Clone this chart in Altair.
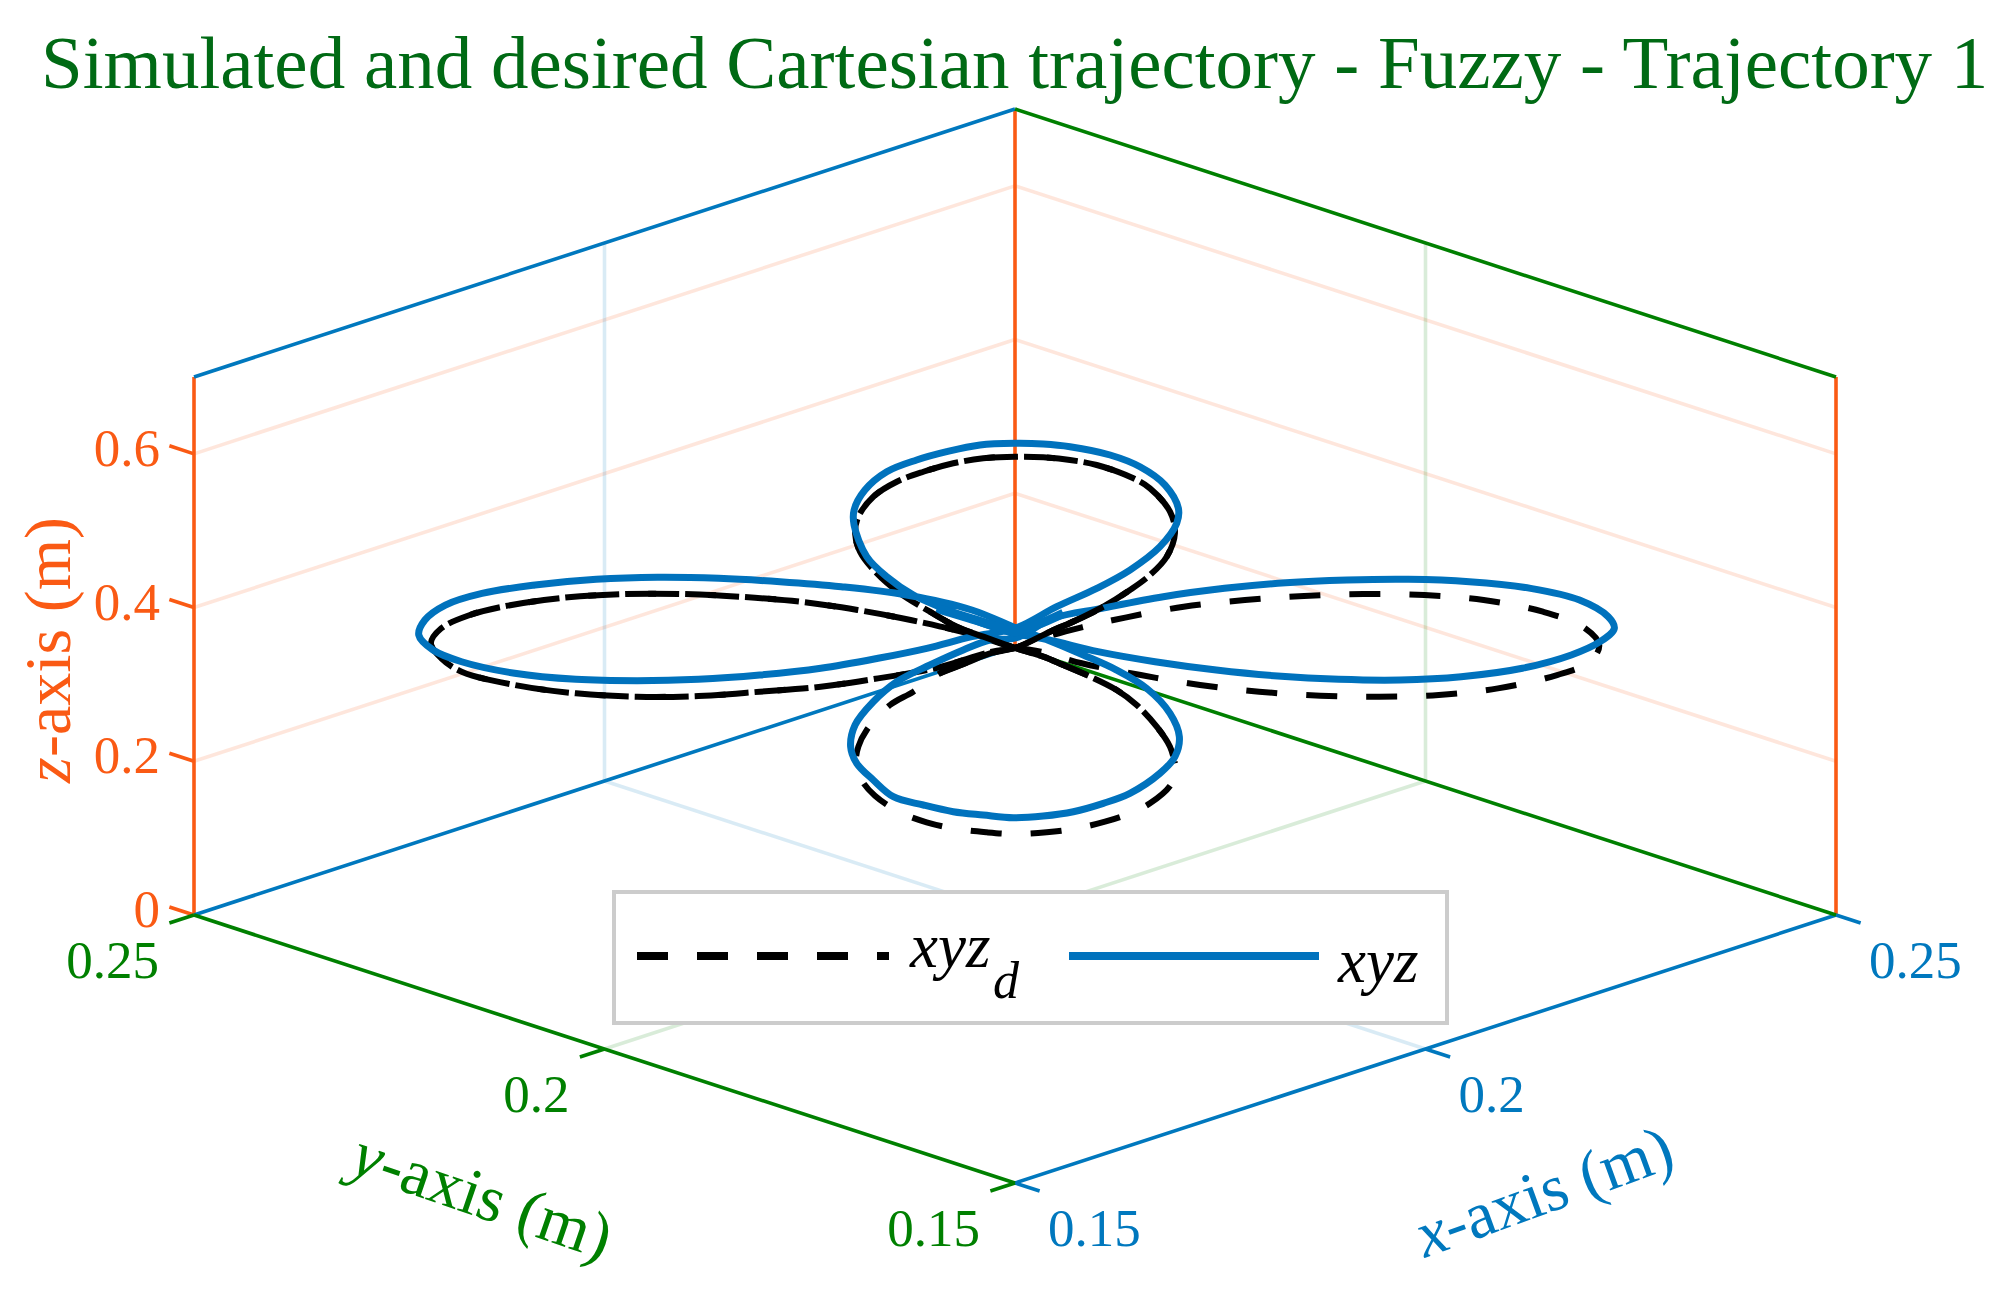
import altair as alt
import pandas as pd
import math

# Desired trajectory (m)
x_d = [.20000,.20157,.20406,.20766,.21127,.21487,.21860,.22220,.22581,.22941,.23301,.23501,.23558,.23463,.23215,.22854,.22494,.22121,.21760,.21400,.21027,.20679,.20406,.20231,
       .20000,.19848,.19706,.19543,.19381,.19239,.19097,.19046,.19032,.19066,.19147,.19300,.19462,.19645,.19828,.20010,.20193,.20376,.20548,.20700,.20822,.20954,.20974,.20944,.20863,.20741,.20619,.20437,.20294,.20172,
       .20000,.19713,.19364,.19041,.18693,.18320,.17972,.17624,.17252,.16878,.16680,.16506,.16443,.16506,.16630,.16953,.17326,.17699,.18072,.18445,.18817,.19166,.19513,.19861,
       .20000,.20213,.20376,.20538,.20700,.20822,.20924,.20974,.20944,.20822,.20700,.20498,.20335,.20172,.20000,.19807,.19624,.19442,.19280,.19137,.19046,.19026,.19056,.19158,.19300,.19482,.19645,.19807,
       .20000]
y_d = [.20000,.19843,.19594,.19234,.18873,.18513,.18140,.17780,.17419,.17059,.16699,.16499,.16442,.16537,.16785,.17146,.17506,.17879,.18240,.18600,.18973,.19321,.19594,.19769,
       .20000,.20152,.20294,.20457,.20619,.20761,.20903,.20954,.20968,.20934,.20853,.20700,.20538,.20355,.20172,.19990,.19807,.19624,.19452,.19300,.19178,.19046,.19026,.19056,.19137,.19259,.19381,.19563,.19706,.19828,
       .20000,.20287,.20636,.20959,.21307,.21680,.22028,.22376,.22748,.23122,.23320,.23494,.23557,.23494,.23370,.23047,.22674,.22301,.21928,.21555,.21183,.20834,.20487,.20139,
       .20000,.19787,.19624,.19462,.19300,.19178,.19076,.19026,.19056,.19178,.19300,.19502,.19665,.19828,.20000,.20193,.20376,.20558,.20720,.20863,.20954,.20974,.20944,.20842,.20700,.20518,.20355,.20193,
       .20000]
z_d = [.3474,.3426,.3275,.3122,.2992,.2905,.2853,.2840,.2862,.2949,.3122,.3295,.3513,.3743,.3946,.4098,.4163,.4176,.4150,.4098,.4011,.3873,.3743,.3643,
       .3474,.3405,.3282,.3145,.2905,.2732,.2407,.2190,.1994,.1756,.1552,.1336,.1206,.1119,.1076,.1054,.1076,.1128,.1214,.1323,.1453,.1713,.1974,.2190,.2450,.2732,.2927,.3122,.3253,.3361,
       .3474,.3665,.3838,.3968,.4076,.4141,.4176,.4176,.4128,.4011,.3903,.3730,.3535,.3340,.3165,.2992,.2884,.2840,.2849,.2905,.2970,.3079,.3210,.3426,
       .3474,.3686,.3838,.4011,.4228,.4423,.4662,.4966,.5247,.5551,.5702,.5855,.5920,.5955,.5963,.5942,.5877,.5767,.5637,.5442,.5182,.4966,.4727,.4446,.4185,.3946,.3751,.3621,
       .3474]

# Simulated trajectory (m)
x_s = [.20006,.20207,.20505,.20853,.21226,.21599,.21972,.22345,.22717,.23090,.23388,.23563,.23650,.23613,.23438,.23140,.22767,.22395,.22021,.21649,.21276,.20903,.20530,.20231,
       .20006,.19848,.19685,.19482,.19280,.19137,.19026,.18999,.19036,.19137,.19259,.19442,.19624,.19807,.19990,.20172,.20355,.20538,.20700,.20883,.20974,.21001,.20944,.20802,.20619,.20416,.20172,
       .20006,.19737,.19339,.18942,.18569,.18196,.17823,.17450,.17077,.16754,.16531,.16406,.16369,.16456,.16630,.16953,.17326,.17699,.18072,.18445,.18817,.19166,.19463,.19737,
       .20006,.20254,.20498,.20700,.20883,.20985,.20995,.20914,.20761,.20579,.20335,.20172,.20000,.19787,.19584,.19401,.19219,.19086,.19020,.19020,.19097,.19219,.19381,.19563,.19746,.19889,
       .20006]
y_s = [.19994,.19793,.19495,.19147,.18774,.18401,.18028,.17655,.17283,.16910,.16612,.16437,.16350,.16387,.16562,.16860,.17233,.17605,.17979,.18351,.18724,.19097,.19470,.19769,
       .19994,.20152,.20315,.20518,.20720,.20863,.20974,.21001,.20964,.20863,.20741,.20558,.20376,.20193,.20010,.19828,.19645,.19462,.19300,.19117,.19026,.18999,.19056,.19198,.19381,.19584,.19828,
       .19994,.20263,.20661,.21058,.21431,.21804,.22177,.22550,.22923,.23246,.23469,.23594,.23631,.23544,.23370,.23047,.22674,.22301,.21928,.21555,.21183,.20834,.20537,.20263,
       .19994,.19746,.19502,.19300,.19117,.19015,.19005,.19086,.19239,.19421,.19665,.19828,.20000,.20213,.20416,.20599,.20781,.20914,.20980,.20980,.20903,.20781,.20619,.20437,.20254,.20111,
       .19994]
z_s = [.3656,.3578,.3426,.3295,.3187,.3109,.3066,.3057,.3100,.3210,.3383,.3556,.3730,.3881,.4098,.4250,.4336,.4367,.4358,.4323,.4250,.4141,.3990,.3860,
       .3604,.3578,.3448,.3253,.3035,.2775,.2472,.2190,.1974,.1756,.1539,.1431,.1344,.1301,.1266,.1288,.1344,.1453,.1583,.1844,.2059,.2320,.2624,.2949,.3187,.3383,.3600,
       .3734,.3968,.4163,.4271,.4336,.4380,.4394,.4367,.4293,.4185,.4033,.3838,.3643,.3448,.3295,.3145,.3066,.3048,.3066,.3122,.3210,.3340,.3470,.3621,
       .3734,.4011,.4250,.4488,.4792,.5096,.5291,.5594,.5832,.5985,.6093,.6128,.6137,.6115,.6028,.5920,.5767,.5529,.5269,.5074,.4662,.4401,.4163,.3990,.3838,.3730,
       .3656]

# Extra simulated pass that thickens the wedge above the crossing point
x_w = [.19523,.19726,.19889,.20000,.20132,.20294]
y_w = [.20477,.20274,.20111,.20000,.19868,.19706]
z_w = [.3990,.3860,.3751,.3686,.3773,.3925]

# Axis limits and ticks
x_lim = [0.15, 0.25]
y_lim = [0.15, 0.25]
z_lim = [0.0, 0.7]
x_ticks = [0.15, 0.2, 0.25]
y_ticks = [0.15, 0.2, 0.25]
z_ticks = [0.0, 0.2, 0.4, 0.6]
x_tick_labels = ["0.15", "0.2", "0.25"]
y_tick_labels = ["0.15", "0.2", "0.25"]
z_tick_labels = ["0", "0.2", "0.4", "0.6"]
title_text = "Simulated and desired Cartesian trajectory - Fuzzy - Trajectory 1"

BLUE_AX, GREEN_AX, ORANGE_AX = "#0078BE", "#008000", "#FA5A14"
BLUE_LINE = "#0072BD"
SERIF = "Liberation Serif"
TICK = 0.003
AX_W = 3.6
W, H = 1979, 1280


def proj(x, y, z):
    """Isometric camera used by the figure, to page pixels."""
    u = 1015 + (x - y) * 8210
    v = 1183 - (x + y - 0.3) * 2680 - z * 768.6
    return u, v


def seg(a, b):
    u0, v0 = proj(*a)
    u1, v1 = proj(*b)
    return {"u0": u0, "v0": v0, "u1": u1, "v1": v1}


X = alt.X("u0:Q", scale=alt.Scale(domain=[8, 8 + W]), axis=None)
Y = alt.Y("v0:Q", scale=alt.Scale(domain=[8 + H, 8]), axis=None)


def rules(segs, color, width=AX_W, opacity=1.0):
    return alt.Chart(pd.DataFrame(segs)).mark_rule(
        color=color, strokeWidth=width, opacity=opacity, strokeCap="butt"
    ).encode(x=X, y=Y, x2="u1:Q", y2="v1:Q")


def curve(xs, ys, zs):
    rows = []
    for i, (a, b, c) in enumerate(zip(xs, ys, zs, strict=True)):
        u, v = proj(a, b, c)
        rows.append({"u0": u, "v0": v, "i": i})
    return pd.DataFrame(rows)


def line(df, **kw):
    return alt.Chart(df).mark_line(interpolate="catmull-rom", **kw).encode(x=X, y=Y, order="i:Q")


def tick_text(xyz, labels, color, align, dx, dy):
    rows = []
    for p, t in zip(xyz, labels):
        u, v = proj(*p)
        rows.append({"u0": u, "v0": v, "t": t})
    return alt.Chart(pd.DataFrame(rows)).mark_text(
        font=SERIF, fontSize=53, color=color, align=align, baseline="middle", dx=dx, dy=dy
    ).encode(x=X, y=Y, text="t:N")


def label(txt, px, py, color, size=66, style="normal", angle=0, align="left"):
    return alt.Chart(pd.DataFrame({"t": [txt]})).mark_text(
        font=SERIF, fontSize=size, fontStyle=style, color=color, angle=angle, align=align, baseline="alphabetic"
    ).encode(x=alt.value(px - 8), y=alt.value(py - 8), text="t:N")


x0, x1 = x_lim
y0, y1 = y_lim
z0, z1 = z_lim

grid_z = rules([seg((x0, y1, z), (x1, y1, z)) for z in z_ticks[1:]] +
               [seg((x1, y1, z), (x1, y0, z)) for z in z_ticks[1:]], ORANGE_AX, AX_W, 0.15)
grid_x = rules([seg((0.2, y1, z0), (0.2, y1, z1)), seg((0.2, y1, z0), (0.2, y0, z0))], BLUE_AX, AX_W, 0.15)
grid_y = rules([seg((x1, 0.2, z0), (x1, 0.2, z1)), seg((x1, 0.2, z0), (x0, 0.2, z0))], GREEN_AX, AX_W, 0.15)

frame_z = rules([seg((x0, y1, z0), (x0, y1, z1)), seg((x1, y1, z0), (x1, y1, z1)), seg((x1, y0, z0), (x1, y0, z1))] +
                [seg((x0, y1, z), (x0, y1 + TICK, z)) for z in z_ticks], ORANGE_AX)
frame_x = rules([seg((x0, y0, z0), (x1, y0, z0)), seg((x0, y1, z0), (x1, y1, z0)), seg((x0, y1, z1), (x1, y1, z1))] +
                [seg((x, y0, z0), (x, y0 - TICK, z0)) for x in x_ticks], BLUE_AX)
frame_y = rules([seg((x0, y0, z0), (x0, y1, z0)), seg((x1, y0, z0), (x1, y1, z0)), seg((x1, y0, z1), (x1, y1, z1))] +
                [seg((x0, y, z0), (x0 - TICK, y, z0)) for y in y_ticks], GREEN_AX)

desired = curve(x_d, y_d, z_d)
simulated = curve(x_s, y_s, z_s)
wedge = curve(x_w, y_w, z_w)

# Along-path length, used only to put the dash pattern in phase with the reference
L = [0.0]
for k in range(1, len(desired)):
    L.append(L[-1] + math.hypot(desired.u0[k] - desired.u0[k - 1], desired.v0[k] - desired.v0[k - 1]))

PERIOD = 60
dash = [31, 29]
off_a = (15.5 - L[17]) % PERIOD
off_a2 = (15.5 - (L[40] - L[24])) % PERIOD
off_b = (57 - (L[60] - L[46])) % PERIOD
off_c = (off_b - 23) % PERIOD

black_a = line(desired.iloc[:25], color="black", strokeWidth=6, strokeDash=dash, strokeDashOffset=off_a)
black_a2 = line(desired.iloc[24:47], color="black", strokeWidth=6, strokeDash=dash, strokeDashOffset=off_a2)
black_b = line(desired.iloc[46:], color="black", strokeWidth=6, strokeDash=dash, strokeDashOffset=off_b)
black_c = line(desired.iloc[46:], color="black", strokeWidth=6, strokeDash=dash, strokeDashOffset=off_c)


def stub(indices):
    d = desired.iloc[indices].copy()
    d["i"] = range(len(d))
    return d


# The desired path lies in front of the simulated one around the crossing
front_1 = line(stub([103, 104, 105, 106, 53, 52, 51]), color="black", strokeWidth=6)
front_2 = line(stub([27, 26, 25, 24, 79, 80, 81]), color="black", strokeWidth=6)
blue = line(simulated, color=BLUE_LINE, strokeWidth=7)
blue_wedge = line(wedge, color=BLUE_LINE, strokeWidth=9)

one = pd.DataFrame({"a": [0]})
legend_box = alt.Chart(one).mark_rect(
    fill="white", stroke="#CCCCCC", strokeWidth=4
).encode(x=alt.value(614 - 8), x2=alt.value(1447 - 8), y=alt.value(892 - 8), y2=alt.value(1023 - 8))
legend_dash = alt.Chart(one).mark_rule(
    color="black", strokeWidth=8, strokeDash=dash
).encode(x=alt.value(637 - 8), x2=alt.value(889 - 8), y=alt.value(956 - 8))
legend_solid = alt.Chart(one).mark_rule(
    color=BLUE_LINE, strokeWidth=8
).encode(x=alt.value(1069 - 8), x2=alt.value(1319 - 8), y=alt.value(956 - 8))

texts = [
    tick_text([(x0, y1, z) for z in z_ticks], z_tick_labels, ORANGE_AX, "right", -34, -4),
    tick_text([(x0, y, z0) for y in y_ticks], y_tick_labels, GREEN_AX, "right", -35, 47),
    tick_text([(x, y0, z0) for x in x_ticks], x_tick_labels, BLUE_AX, "left", 33, 47),
    label("z", 70, 783, ORANGE_AX, style="italic", angle=270),
    label("-axis (m)", 70, 757, ORANGE_AX, angle=270),
    label("y", 348, 1172, GREEN_AX, style="italic", angle=19),
    label("-axis (m)", 376, 1182, GREEN_AX, angle=19),
    label("x", 1425, 1258, BLUE_AX, style="italic", angle=340),
    label("-axis (m)", 1452, 1248, BLUE_AX, angle=340),
    label("xyz", 910, 967, "black", size=63, style="italic"),
    label("d", 993, 998, "black", size=52, style="italic"),
    label("xyz", 1338, 982, "black", size=63, style="italic"),
]

chart = alt.layer(
    grid_z, grid_x, grid_y, frame_z, frame_x, frame_y,
    black_a, black_a2, black_b, black_c, blue, blue_wedge, front_1, front_2,
    legend_box, legend_dash, legend_solid, *texts
).properties(
    width=W, height=H,
    padding=0,
    background="white",
    autosize=alt.AutoSizeParams(type="none"),
    title=alt.TitleParams(title_text, anchor="start", font=SERIF, fontSize=75, fontWeight="normal",
                          color="#006A14", dx=33, dy=96, offset=0),
).configure_view(strokeWidth=0)

chart.save("out.html", embed_options={"renderer": "svg", "actions": False})
